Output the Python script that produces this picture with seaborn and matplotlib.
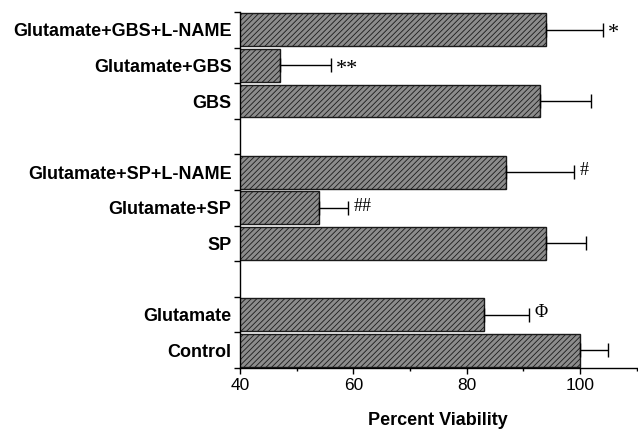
import matplotlib
matplotlib.use("Agg")
import matplotlib.pyplot as plt
import seaborn as sns
import pandas as pd
import numpy as np

# Data (top to bottom); blank entries are group gaps
categories = ["Glutamate+GBS+L-NAME", "Glutamate+GBS", "GBS", " ",
              "Glutamate+SP+L-NAME", "Glutamate+SP", "SP", "  ",
              "Glutamate", "Control"]
bar_categories = ["Glutamate+GBS+L-NAME", "Glutamate+GBS", "GBS",
                  "Glutamate+SP+L-NAME", "Glutamate+SP", "SP",
                  "Glutamate", "Control"]
viability = [94, 47, 93, 87, 54, 94, 83, 100]
errors = [10, 9, 9, 12, 5, 7, 8, 5]
marks = ["*", "**", "", "#", "##", "", "\u03a6", ""]
x_ticks = [40, 60, 80, 100]

df = pd.DataFrame({"group": bar_categories, "viability": viability})

sns.set_style("white")
plt.rcParams["font.family"] = ["Liberation Sans", "DejaVu Sans"]
plt.rcParams["hatch.linewidth"] = 0.6
plt.rcParams["text.color"] = "black"
plt.rcParams["xtick.color"] = "black"
plt.rcParams["ytick.color"] = "black"
plt.rcParams["axes.labelcolor"] = "black"

fig = plt.figure(figsize=(6.38, 4.30), dpi=100)
ax = fig.add_axes([0.376, 0.144, 0.622, 0.828])

sns.barplot(data=df, x="viability", y="group", order=categories, orient="h",
            color="#8c8c8c", errorbar=None, width=0.92, ax=ax,
            edgecolor="#1a1a1a", linewidth=1.0, saturation=1)
for p in ax.patches:
    p.set_hatch("//////")

pos = [categories.index(c) for c in bar_categories]
ax.errorbar(viability, pos, xerr=[np.zeros(len(errors)), errors], fmt="none",
            ecolor="black", elinewidth=1.0, capsize=5, capthick=1.0)

for v, e, y, m in zip(viability, errors, pos, marks):
    if m:
        star = "*" in m
        ax.text(v + e + 1.0, y + (0.1 if star else -0.05), m, ha="left", va="center",
                fontsize=16 if star else 13,
                family=["Liberation Serif", "DejaVu Serif"])

ax.set_xlim(40, 110)
ax.set_ylim(len(categories) - 0.5, -0.5)
ax.set_xticks(x_ticks)
ax.set_xticks([50, 70, 90, 110], minor=True)
ax.set_xticklabels([str(t) for t in x_ticks], fontsize=12.5)
ax.set_yticks(range(len(categories)))
ax.set_yticklabels(categories, fontsize=13, fontweight="bold")
ax.set_yticks(np.arange(-0.5, len(categories), 1.0), minor=True)
ax.tick_params(axis="y", which="major", length=0, pad=6)
ax.tick_params(axis="y", which="minor", length=4, width=1, direction="out", left=True)
ax.tick_params(axis="x", which="major", length=4, width=1, direction="out", bottom=True)
ax.tick_params(axis="x", which="minor", length=2, width=1, direction="out", bottom=True)

ax.set_xlabel("Percent Viability", fontsize=13, fontweight="bold", labelpad=13)
ax.set_ylabel("")
for s in ["top", "right"]:
    ax.spines[s].set_visible(False)
for s in ["left", "bottom"]:
    ax.spines[s].set_color("black")
    ax.spines[s].set_linewidth(1.0)

fig.savefig("out.png", dpi=100)
